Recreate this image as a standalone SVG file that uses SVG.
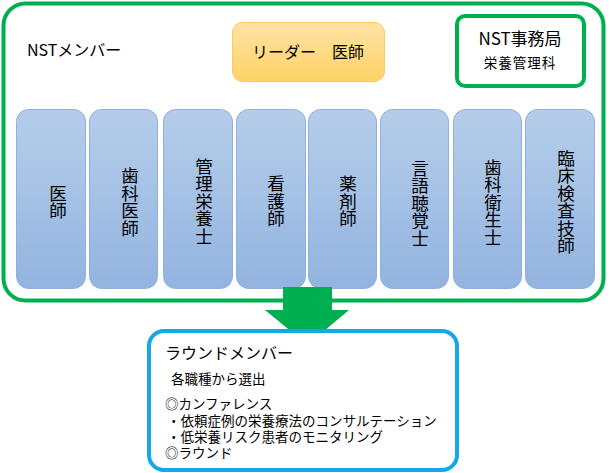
<svg xmlns="http://www.w3.org/2000/svg" width="610" height="473" viewBox="0 0 610 473">
<defs>
<linearGradient id="gBlue" x1="0" y1="0" x2="0" y2="1">
<stop offset="0" stop-color="#B5CDEA"/>
<stop offset="1" stop-color="#93B4E0"/>
</linearGradient>
<linearGradient id="gGold" x1="0" y1="0" x2="0" y2="1">
<stop offset="0" stop-color="#FFE2A6"/>
<stop offset="1" stop-color="#FFD364"/>
</linearGradient>
<style>
text{font-family:"Noto Sans CJK JP","Noto Sans",sans-serif;fill:#000}
.col{fill:url(#gBlue);stroke:#8EB1DD;stroke-width:1}
.vt{font-size:17.5px;text-anchor:middle;writing-mode:vertical-rl}
.small{font-size:13.5px}
</style>
</defs>
<g id="nst-members">
<rect x="3.5" y="3.5" width="600" height="297" rx="22" fill="#fff" stroke="#00B050" stroke-width="4"/>
<text x="27" y="56" font-size="16">NSTメンバー</text>
</g>
<g id="leader">
<rect x="232.5" y="22.5" width="152" height="59" rx="10" fill="url(#gGold)" stroke="#F9CB5C" stroke-width="1"/>
<text x="308" y="58" font-size="16" text-anchor="middle">リーダー　医師</text>
</g>
<g id="nst-office">
<rect x="457" y="16" width="127" height="70" rx="8" fill="#fff" stroke="#00B050" stroke-width="4"/>
<text x="520" y="45" font-size="17" text-anchor="middle">NST事務局</text>
<text x="520" y="68" font-size="13.5" text-anchor="middle" letter-spacing="1">栄養管理科</text>
</g>
<g id="col1"><rect class="col" x="16.5" y="109.5" width="69" height="179" rx="12"/>
<text class="vt" x="58" y="202">医師</text></g>
<g id="col2"><rect class="col" x="89.5" y="109.5" width="68" height="179" rx="12"/>
<text class="vt" x="130" y="202">歯科医師</text></g>
<g id="col3"><rect class="col" x="163.5" y="109.5" width="69" height="179" rx="12"/>
<text class="vt" x="204" y="201">管理栄養士</text></g>
<g id="col4"><rect class="col" x="236.5" y="109.5" width="69" height="179" rx="12"/>
<text class="vt" x="276" y="201">看護師</text></g>
<g id="col5"><rect class="col" x="308.5" y="109.5" width="68" height="179" rx="12"/>
<text class="vt" x="348" y="201">薬剤師</text></g>
<g id="col6"><rect class="col" x="380.5" y="109.5" width="68" height="179" rx="12"/>
<text class="vt" x="420" y="203">言語聴覚士</text></g>
<g id="col7"><rect class="col" x="453.5" y="109.5" width="68" height="179" rx="12"/>
<text class="vt" x="493" y="202">歯科衛生士</text></g>
<g id="col8"><rect class="col" x="525.5" y="109.5" width="69" height="179" rx="12"/>
<text class="vt" x="566" y="202">臨床検査技師</text></g>
<g id="connectors">
<polygon points="283,287 332,287 332,310 349,310 307.5,345 265,310 283,310" fill="#00B050"/>
</g>
<g id="round-members">
<rect x="149" y="331" width="308" height="139" rx="15" fill="#fff" stroke="#13A8E8" stroke-width="4"/>
<text x="165" y="359" font-size="16">ラウンドメンバー</text>
<text class="small" x="171" y="384">各職種から選出</text>
<text class="small" x="165" y="409">◎カンファレンス</text>
<text class="small" x="167" y="426">・依頼症例の栄養療法のコンサルテーション</text>
<text class="small" x="167" y="442">・低栄養リスク患者のモニタリング</text>
<text class="small" x="165" y="458">◎ラウンド</text>
</g>
</svg>
